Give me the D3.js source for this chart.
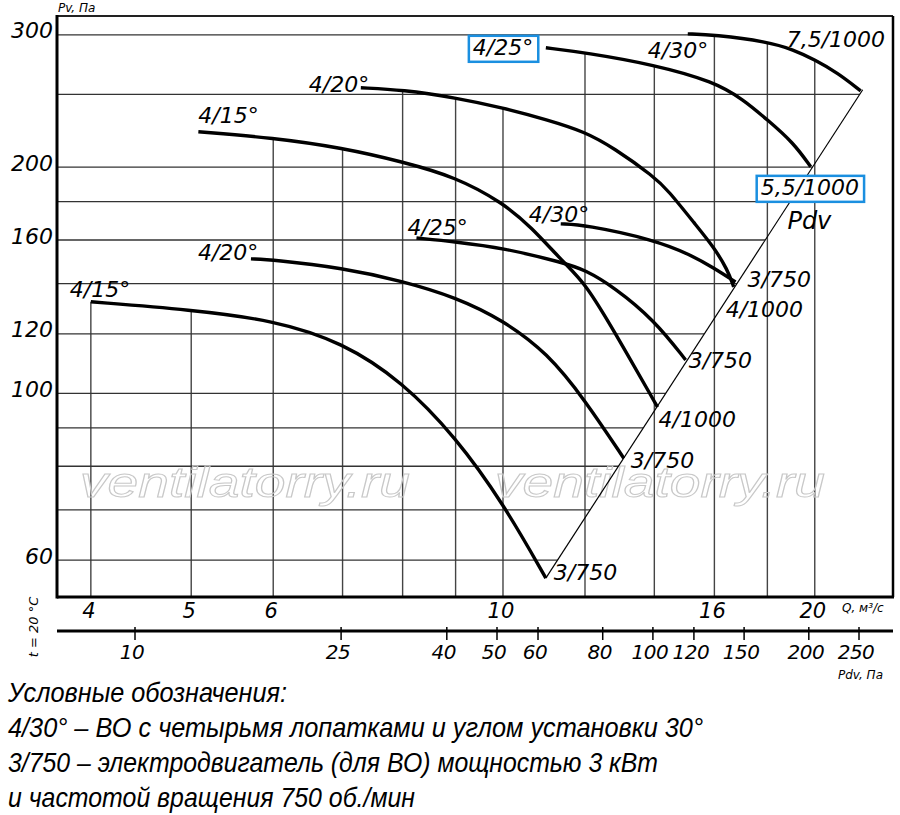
<!DOCTYPE html>
<html>
<head>
<meta charset="utf-8">
<script src="https://cdn.jsdelivr.net/npm/d3@7"></script>
<style>
  body { margin: 0; background: #fff; }
  svg { display: block; }
  .lbl { font-family: "DejaVu Sans", sans-serif; font-style: italic; fill: #000; }
  .legend { font-family: "Liberation Sans Narrow", "Liberation Sans", sans-serif; font-style: italic; fill: #000; }
</style>
</head>
<body>
<svg id="chart" width="900" height="815"></svg>
<script>
// values (Q in m3/s, Pv in Pa)
const qTicks = [4, 5, 6, 10, 16, 20];
const qGrid = [4, 5, 6, 7, 8, 9, 10, 12, 14, 16, 18, 20];
const pvTicks = [300, 200, 160, 120, 100, 60];
const pvGrid = [300, 250, 200, 180, 160, 140, 120, 100, 90, 80, 70, 60];
const pdvTicks = [10, 25, 40, 50, 60, 80, 100, 120, 150, 200, 250];

// fan curves, [Q, Pv]
const lower15 = [[4, 132.4], [5, 129.2], [6, 125.2], [7, 117], [8, 103.6], [9, 87.5], [10, 71.5], [11, 56.8]];
const lower20 = [[5.71, 151], [6, 150.6], [7, 146.9], [8, 141.1], [9, 134.3], [10, 125.2], [11.04, 113.2], [12, 98], [13.08, 82]];
const lower25 = [[8.25, 161], [9, 159.1], [10, 156.2], [11.45, 149.2], [12, 146], [12.79, 138.6], [14, 125.2], [15.01, 110.8]];
const lower30 = [[11.37, 168.1], [12, 167.6], [14, 160.1], [15.18, 152.9], [15.97, 146.9], [16.77, 140.7]];
const upper15 = [[5.08, 222.9], [6, 218.8], [7, 212.2], [8, 203.3], [9, 194.1], [10, 179.3], [10.64, 166.6], [11.45, 149.2], [12, 140.3], [12.79, 121.4], [14.1, 95.9]];
const upper20 = [[7.29, 255.1], [8, 253.5], [9, 247.4], [10, 239.9], [11.04, 231.2], [12, 222.9], [12.79, 212.2], [14, 194.1], [14.42, 186.6], [15.35, 167.6], [15.97, 156.7], [16.48, 146], [16.7, 138.6]];
const upper25 = [[11, 288.3], [12.02, 284], [14, 273.7], [16, 259.8], [17.07, 245.9], [18, 231.2], [19.08, 215.5], [19.82, 200.2]];
const upper30 = [[15.08, 300.9], [16, 300], [18, 293.7], [19.08, 286.6], [20, 277.9], [21.04, 267.1], [22.15, 252.7]];

// Pdv line through the curve ends
const pdvLine = [[11, 56.8], [22.25, 253.5]];

const curves = [lower15, lower20, lower25, lower30, upper15, upper20, upper25, upper30];
const bladeNames = ["4/15°", "4/20°", "4/25°", "4/30°", "4/15°", "4/20°", "4/25°", "4/30°"];
const motorNames = ["3/750", "3/750", "3/750", "3/750", "4/1000", "4/1000", "5,5/1000", "7,5/1000"];

const legendLines = [
  "Условные обозначения:",
  "4/30° – ВО с четырьмя лопатками и углом установки 30°",
  "3/750 – электродвигатель (для ВО) мощностью 3 кВт",
  "и частотой вращения 750 об./мин"
];

// label placement (pixels from curve start / end), kept apart from the data
const startOffsets = [[-21, -5], [-53, 1], [-9, -3], [-32, -2], [0, -9], [-52, 4], [-73, 7], [-40, 24]];
const endOffsets = [[8, 2], [7, 10], [3, 8], [12, 5], [1, 20], [-8, 30], [-50, 28], [-74, -44]];
const boxed = [false, false, false, false, false, false, true, false];
const legendWidths = [279, 695, 650, 407];

const svg = d3.select("#chart");
const frame = { left: 57, right: 893, top: 16, bottom: 597 };

const x = d3.scaleLog().domain([3.71, 23.8]).range([frame.left, frame.right]);
const y = d3.scaleLog().domain([53.6, 317.8]).range([frame.bottom, frame.top]);
const xPdv = d3.scaleLog().domain([10, 250]).range([135, 859]);

const line = d3.line()
  .x(d => x(d[0]))
  .y(d => y(d[1]))
  .curve(d3.curveBasis);

// layers
const gGrid = svg.append("g");
const gMark = svg.append("g");
const gCurves = svg.append("g");
const gText = svg.append("g");
const gFrame = svg.append("g");

// curves
const paths = curves.map(c =>
  gCurves.append("path")
    .attr("d", line(c))
    .attr("fill", "none")
    .attr("stroke", "#000")
    .attr("stroke-width", 3.4)
    .node()
);

// Pdv diagonal
gCurves.append("line")
  .attr("x1", x(pdvLine[0][0])).attr("y1", y(pdvLine[0][1]))
  .attr("x2", x(pdvLine[1][0])).attr("y2", y(pdvLine[1][1]))
  .attr("stroke", "#000")
  .attr("stroke-width", 1.2);

// find y of a path at a given x (x grows along every curve)
function yAtX(node, px) {
  const len = node.getTotalLength();
  let lo = 0, hi = len;
  for (let i = 0; i < 30; i++) {
    const mid = (lo + hi) / 2;
    if (node.getPointAtLength(mid).x < px) lo = mid; else hi = mid;
  }
  return node.getPointAtLength((lo + hi) / 2).y;
}

// vertical grid: from the axis up to the highest curve
qGrid.forEach(q => {
  const px = x(q);
  let top = frame.bottom;
  curves.forEach((c, i) => {
    const x0 = x(c[0][0]) - 0.5, x1 = x(c[c.length - 1][0]) + 0.5;
    if (px >= x0 && px <= x1) top = Math.min(top, yAtX(paths[i], Math.max(px, x0 + 0.5)));
  });
  gGrid.append("line")
    .attr("x1", px).attr("x2", px)
    .attr("y1", top).attr("y2", frame.bottom)
    .attr("stroke", "#444")
    .attr("stroke-width", 1.4);
});

// horizontal grid: clipped by the top curve and the Pdv line
const topPath = paths[paths.length - 1];
const topLen = topPath.getTotalLength();
const clipPts = [[frame.left, frame.top], [x(upper30[0][0]), frame.top]];
for (let s = 0; s <= 40; s++) {
  const p = topPath.getPointAtLength(topLen * s / 40);
  clipPts.push([p.x, p.y]);
}
clipPts.push([x(pdvLine[1][0]), y(pdvLine[1][1])]);
clipPts.push([x(pdvLine[0][0]), y(pdvLine[0][1])]);
clipPts.push([x(pdvLine[0][0]), frame.bottom]);
clipPts.push([frame.left, frame.bottom]);

svg.append("defs").append("clipPath").attr("id", "hclip")
  .append("polygon")
  .attr("points", clipPts.map(p => p.join(",")).join(" "));

gGrid.append("g")
  .attr("clip-path", "url(#hclip)")
  .selectAll("line")
  .data(pvGrid)
  .join("line")
  .attr("x1", frame.left).attr("x2", frame.right)
  .attr("y1", d => y(d)).attr("y2", d => y(d))
  .attr("stroke", "#333")
  .attr("stroke-width", 1.3);

// watermark
[80, 495].forEach(wx => {
  gMark.append("text")
    .attr("x", wx).attr("y", 497)
    .attr("textLength", 330)
    .attr("lengthAdjust", "spacingAndGlyphs")
    .style("font-family", "'Liberation Sans', Arial, sans-serif")
    .style("font-style", "italic")
    .style("font-size", "42px")
    .attr("fill", "none")
    .attr("stroke", "#c8c8c8")
    .attr("stroke-width", 1)
    .text("ventilatorry.ru");
});

// curve labels
function addLabel(tx, ty, txt, box) {
  const t = gText.append("text")
    .attr("class", "lbl")
    .attr("x", tx).attr("y", ty)
    .style("font-size", "22px")
    .text(txt);
  if (box) {
    const b = t.node().getBBox();
    gText.insert("rect", "text")
      .attr("x", b.x - 4).attr("y", b.y + 1)
      .attr("width", b.width + 9).attr("height", b.height + 1)
      .attr("fill", "#fff")
      .attr("stroke", "#1a8fe0")
      .attr("stroke-width", 2.5);
  }
}

curves.forEach((c, i) => {
  const s = c[0], e = c[c.length - 1];
  addLabel(x(s[0]) + startOffsets[i][0], y(s[1]) + startOffsets[i][1], bladeNames[i], boxed[i]);
  addLabel(x(e[0]) + endOffsets[i][0], y(e[1]) + endOffsets[i][1], motorNames[i], boxed[i]);
});

// "Pdv" beside the diagonal
{
  const t = 0.715;
  const px = x(pdvLine[0][0]) + t * (x(pdvLine[1][0]) - x(pdvLine[0][0]));
  const py = y(pdvLine[0][1]) + t * (y(pdvLine[1][1]) - y(pdvLine[0][1]));
  gText.append("text").attr("class", "lbl")
    .attr("x", px + 15).attr("y", py)
    .style("font-size", "24px")
    .text("Pdv");
}

// Pv ticks
gText.selectAll("text.ytick")
  .data(pvTicks)
  .join("text")
  .attr("class", "lbl ytick")
  .attr("x", 53)
  .attr("y", d => y(d) - 4)
  .attr("text-anchor", "end")
  .attr("dominant-baseline", "central")
  .style("font-size", "22px")
  .text(d => d);

// Q ticks
gText.selectAll("text.xtick")
  .data(qTicks)
  .join("text")
  .attr("class", "lbl xtick")
  .attr("x", d => x(d) - 2)
  .attr("y", 611)
  .attr("text-anchor", "middle")
  .attr("dominant-baseline", "central")
  .style("font-size", "21px")
  .text(d => d);

// Pdv axis
const pdvY = 631;
gFrame.append("line")
  .attr("x1", frame.left).attr("x2", frame.right)
  .attr("y1", pdvY).attr("y2", pdvY)
  .attr("stroke", "#000").attr("stroke-width", 3);

gFrame.selectAll("line.ptick")
  .data(pdvTicks)
  .join("line")
  .attr("class", "ptick")
  .attr("x1", d => xPdv(d)).attr("x2", d => xPdv(d))
  .attr("y1", pdvY - 4).attr("y2", pdvY + 9)
  .attr("stroke", "#000").attr("stroke-width", 1.5);

gText.selectAll("text.ptick")
  .data(pdvTicks)
  .join("text")
  .attr("class", "lbl ptick")
  .attr("x", d => xPdv(d) - 3)
  .attr("y", 652)
  .attr("text-anchor", "middle")
  .attr("dominant-baseline", "central")
  .style("font-size", "20px")
  .style("letter-spacing", "-0.5px")
  .text(d => d);

// axis captions
gText.append("text").attr("class", "lbl")
  .attr("x", 58).attr("y", 12)
  .style("font-size", "12px")
  .text("Pv, Па");

gText.append("text").attr("class", "lbl")
  .attr("x", 842).attr("y", 612)
  .style("font-size", "12px")
  .text("Q, м³/с");

gText.append("text").attr("class", "lbl")
  .attr("x", 838).attr("y", 679)
  .style("font-size", "12px")
  .text("Pdv, Па");

gText.append("text").attr("class", "lbl")
  .attr("transform", "translate(38,627) rotate(-90)")
  .attr("text-anchor", "middle")
  .style("font-size", "13px")
  .text("t = 20 °C");

// frame
gFrame.append("line")
  .attr("x1", frame.left).attr("x2", frame.right)
  .attr("y1", frame.top).attr("y2", frame.top)
  .attr("stroke", "#222").attr("stroke-width", 2);
gFrame.append("line")
  .attr("x1", frame.right).attr("x2", frame.right)
  .attr("y1", frame.top).attr("y2", frame.bottom)
  .attr("stroke", "#000").attr("stroke-width", 2.5);
gFrame.append("line")
  .attr("x1", frame.left).attr("x2", frame.left)
  .attr("y1", frame.top - 1).attr("y2", frame.bottom + 1.5)
  .attr("stroke", "#000").attr("stroke-width", 3);
gFrame.append("line")
  .attr("x1", frame.left).attr("x2", frame.right + 1)
  .attr("y1", frame.bottom).attr("y2", frame.bottom)
  .attr("stroke", "#000").attr("stroke-width", 3);

// legend
svg.append("g").selectAll("text")
  .data(legendLines)
  .join("text")
  .attr("class", "legend")
  .attr("x", 8)
  .attr("y", (d, i) => 702 + i * 35)
  .attr("textLength", (d, i) => legendWidths[i])
  .attr("lengthAdjust", "spacingAndGlyphs")
  .style("font-size", "28px")
  .text(d => d);
</script>
</body>
</html>
